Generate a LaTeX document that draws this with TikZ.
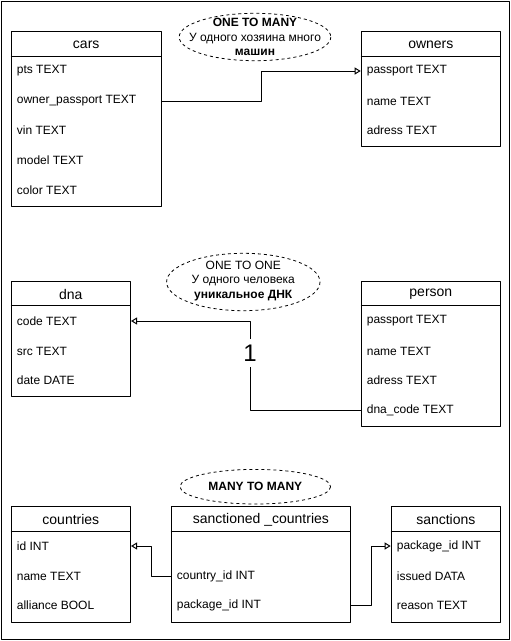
\documentclass[tikz,border=0pt]{standalone}
\usepackage{fontspec}
\setmainfont{Liberation Sans}
\usetikzlibrary{arrows.meta,calc}

\begin{document}
\begin{tikzpicture}[x=1pt, y=-1pt, line join=round,
    tabla/.style={draw, line width=1pt, anchor=north west, inner sep=0pt},
    cabecera/.style={font=\fontsize{14}{16}\selectfont, inner sep=0pt},
    campo/.style={anchor=west, inner xsep=6pt, inner ysep=0pt, font=\fontsize{12}{14}\selectfont},
    elipse/.style={draw, line width=0.8pt, dash pattern=on 3pt off 3pt},
    nota/.style={align=center, inner sep=0pt, font=\fontsize{12}{14.5}\selectfont},
    flecha/.style={line width=1pt, -{Triangle[open, length=6pt, width=7pt]}}]
  % Marco
  \useasboundingbox (0,0) rectangle (511,641);
  \draw[line width=1pt] (1,1) rectangle (509.5,639.5);

  % Tablas
  \node[tabla, minimum width=150, minimum height=175.3] (cars) at (10.7,30.7) {};
  \node[tabla, minimum width=139.3, minimum height=115] (owners) at (360.7,30.7) {};
  \node[tabla, minimum width=119.3, minimum height=115] (dna) at (10.7,280.7) {};
  \node[tabla, minimum width=139.3, minimum height=145] (person) at (360.7,280.7) {};
  \node[tabla, minimum width=119.3, minimum height=116] (countries) at (10.7,505.7) {};
  \node[tabla, minimum width=179.3, minimum height=116] (sc) at (170.7,505.7) {};
  \node[tabla, minimum width=109.3, minimum height=116] (sanctions) at (390.7,505.7) {};

  % Cabeceras
  \foreach \t/\h/\name in {cars/25.3/cars, owners/25.3/owners, dna/25/dna, person/25/person,
      countries/25.3/countries, sc/25.3/sanctioned \_countries, sanctions/25.3/sanctions} {
    \draw[line width=1pt] ($(\t.north west)+(0,\h)$) -- ($(\t.north east)+(0,\h)$);
    \node[cabecera] at ($(\t.north)+(0,\h/2+1)$) {\name};
  }

  % Campos
  \node[campo] (pts) at (10.7,71) {pts TEXT};
  \node[campo] (owp) at (10.7,101) {owner\_passport TEXT};
  \node[campo] (vin) at (10.7,130) {vin TEXT};
  \node[campo] (model) at (10.7,160) {model TEXT};
  \node[campo] (color) at (10.7,190) {color TEXT};

  \node[campo] (pass) at (360.7,71) {passport TEXT};
  \node[campo] (oname) at (360.7,101) {name TEXT};
  \node[campo] (oadr) at (360.7,130) {adress TEXT};

  \node[campo] (code) at (10.7,321) {code TEXT};
  \node[campo] (src) at (10.7,351) {src TEXT};
  \node[campo] (date) at (10.7,380) {date DATE};

  \node[campo] (ppass) at (360.7,321) {passport TEXT};
  \node[campo] (pname) at (360.7,351) {name TEXT};
  \node[campo] (padr) at (360.7,380) {adress TEXT};
  \node[campo] (dnac) at (360.7,410) {dna\_code TEXT};

  \node[campo] (cid) at (10.7,546) {id INT};
  \node[campo] (cname) at (10.7,576) {name TEXT};
  \node[campo] (call) at (10.7,605) {alliance BOOL};

  \node[campo] (ctry) at (170.7,576) {country\_id INT};
  \node[campo] (pkg) at (170.7,605) {package\_id INT};

  \node[campo] (spkg) at (390.7,546) {package\_id INT};
  \node[campo] (sissued) at (390.7,576) {issued DATA};
  \node[campo] (sreason) at (390.7,605) {reason TEXT};

  % Relaciones
  \draw[elipse] (255,37) ellipse [x radius=75.8, y radius=23.7];
  \node[nota] (rel1) at (255,37) {\textbf{ONE TO MANY}\\У одного хозяина много\\\textbf{машин}};
  \draw[elipse] (243.3,282) ellipse [x radius=76.7, y radius=28.7];
  \node[nota] (rel2) at (243.3,281) {ONE TO ONE\\У одного человека\\\textbf{уникальное ДНК}};
  \draw[elipse] (255.3,486.7) ellipse [x radius=75.3, y radius=17.3];
  \node[nota] (rel3) at (255.3,486) {\textbf{MANY TO MANY}};

  % Conectores
  \draw[flecha] (owp -| cars.east) -- ++(99.3,0) |- (pass -| owners.west);
  \draw[flecha] (dnac -| person.west) -- ++(-110.7,0) |- (code -| dna.east)
    node[pos=0.32, fill=white, inner sep=2pt, minimum height=28, font=\fontsize{24}{28}\selectfont] (uno) {1};
  \draw[flecha] (ctry -| sc.west) -- ++(-19.7,0) |- (cid -| countries.east);
  \draw[flecha] (pkg -| sc.east) -- ++(20,0) |- (spkg -| sanctions.west);
\end{tikzpicture}
\end{document}
